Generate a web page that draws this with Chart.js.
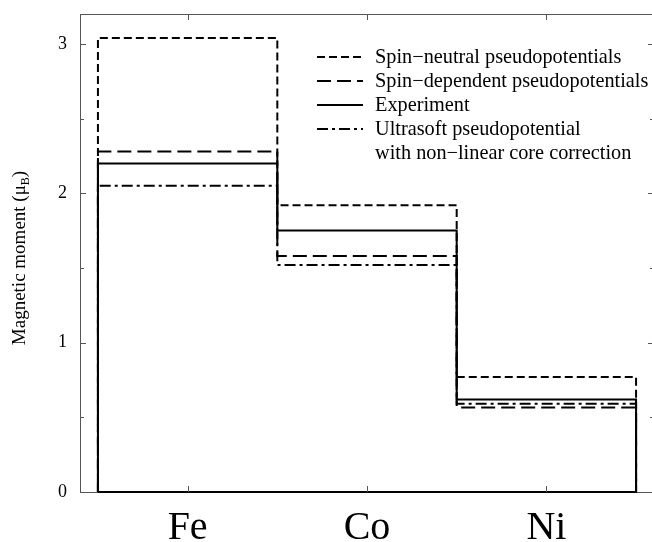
<!DOCTYPE html>
<html>
<head>
<meta charset="utf-8">
<script src="https://cdn.jsdelivr.net/npm/chart.js@4"></script>
<style>
html,body{margin:0;padding:0;background:#fff;overflow:hidden;}
#wrap{width:656px;height:542px;position:relative;}
</style>
</head>
<body>
<div id="wrap"><canvas id="c"></canvas></div>
<script>
// ---- data ----
const categories = ['Fe', 'Co', 'Ni'];
const spinNeutral = [3.04, 1.92, 0.77];
const spinDependent = [2.28, 1.58, 0.565];
const experiment = [2.20, 1.75, 0.62];
const ultrasoft = [2.05, 1.52, 0.59];
const yTicks = [0, 1, 2, 3];
const yMinorTicks = [0.5, 1.5, 2.5];
const seriesLabels = [
  ['Spin\u2212neutral pseudopotentials'],
  ['Spin\u2212dependent pseudopotentials'],
  ['Experiment'],
  ['Ultrasoft pseudopotential', 'with non\u2212linear core correction']
];

// step outline built from the values (each category spans index-0.5 .. index+0.5)
function stepPoints(vals, close) {
  const pts = [{x: -0.5, y: 0}];
  vals.forEach((v, i) => {
    pts.push({x: i - 0.5, y: v});
    pts.push({x: i + 0.5, y: v});
  });
  pts.push({x: vals.length - 0.5, y: 0});
  if (close) pts.push({x: -0.5, y: 0});
  return pts;
}

const SERIF = "'Liberation Serif', 'DejaVu Serif', serif";

const datasets = [
  {label: seriesLabels[2].join(' '), data: stepPoints(experiment, true), borderColor: '#000', borderWidth: 2, borderDash: []},
  {label: seriesLabels[0].join(' '), data: stepPoints(spinNeutral, false), borderColor: '#000', borderWidth: 2, borderDash: [8, 4]},
  {label: seriesLabels[1].join(' '), data: stepPoints(spinDependent, false), borderColor: '#000', borderWidth: 2, borderDash: [14, 6]},
  {label: seriesLabels[3].join(' '), data: stepPoints(ultrasoft, false), borderColor: '#000', borderWidth: 2, borderDash: [11, 4, 3, 4]}
].map(d => Object.assign(d, {showLine: true, pointRadius: 0, fill: false, tension: 0, clip: false, borderCapStyle: 'butt'}));

const legendOrder = [1, 2, 0, 3];
const legendLines = [seriesLabels[0], seriesLabels[1], seriesLabels[2], seriesLabels[3]];

const decor = {
  id: 'decor',
  beforeDatasetsDraw(chart) {
    const {ctx, chartArea: a} = chart;
    ctx.save();
    ctx.strokeStyle = '#555';
    ctx.lineWidth = 1;
    ctx.strokeRect(a.left + 0.5, a.top + 0.5, a.right - a.left - 1, a.bottom - a.top);
    ctx.restore();
  },
  afterDraw(chart) {
    const {ctx, chartArea: a, scales} = chart;
    const xs = scales.x, ys = scales.y;
    ctx.save();
    ctx.strokeStyle = '#555';
    ctx.lineWidth = 1;
    ctx.beginPath();
    yTicks.forEach(v => {
      const y = Math.round(ys.getPixelForValue(v)) + 0.5;
      ctx.moveTo(a.left, y); ctx.lineTo(a.left + 6, y);
      ctx.moveTo(a.right, y); ctx.lineTo(a.right - 6, y);
    });
    yMinorTicks.forEach(v => {
      const y = Math.round(ys.getPixelForValue(v)) + 0.5;
      ctx.moveTo(a.left, y); ctx.lineTo(a.left + 4, y);
      ctx.moveTo(a.right, y); ctx.lineTo(a.right - 4, y);
    });
    categories.forEach((c, i) => {
      const x = Math.round(xs.getPixelForValue(i)) + 0.5;
      ctx.moveTo(x, a.top); ctx.lineTo(x, a.top + 6);
      ctx.moveTo(x, a.bottom); ctx.lineTo(x, a.bottom - 6);
    });
    ctx.stroke();

    // legend
    ctx.fillStyle = '#000';
    ctx.strokeStyle = '#000';
    ctx.font = '20.3px ' + SERIF;
    ctx.textBaseline = 'middle';
    let rowY = 57;
    const rowH = 24;
    legendLines.forEach((lines, r) => {
      const ds = chart.data.datasets[legendOrder[r]];
      ctx.beginPath();
      ctx.lineWidth = ds.borderWidth;
      ctx.setLineDash(ds.borderDash);
      ctx.moveTo(317, rowY); ctx.lineTo(363, rowY);
      ctx.stroke();
      ctx.setLineDash([]);
      lines.forEach(t => {
        ctx.fillText(t, 375, rowY + 1);
        rowY += rowH;
      });
    });

    // y axis title with subscript
    ctx.save();
    ctx.translate(25, 258);
    ctx.rotate(-Math.PI / 2);
    ctx.textBaseline = 'alphabetic';
    ctx.textAlign = 'left';
    const main = 'Magnetic moment (\u03bc';
    const big = '19px ' + SERIF, small = '12px ' + SERIF;
    ctx.font = big;
    const w1 = ctx.measureText(main).width;
    ctx.font = small;
    const w2 = ctx.measureText('B').width;
    ctx.font = big;
    const w3 = ctx.measureText(')').width;
    const x0 = -(w1 + w2 + w3) / 2;
    ctx.fillText(main, x0, 0);
    ctx.font = small;
    ctx.fillText('B', x0 + w1, 4);
    ctx.font = big;
    ctx.fillText(')', x0 + w1 + w2, 0);
    ctx.restore();

    ctx.restore();
  }
};

new Chart(document.getElementById('c'), {
  type: 'scatter',
  data: {datasets},
  options: {
    responsive: true,
    maintainAspectRatio: false,
    animation: false,
    events: [],
    layout: {padding: {top: 14, right: 2, left: 0, bottom: 0}},
    plugins: {legend: {display: false}, tooltip: {enabled: false}},
    scales: {
      x: {
        type: 'linear',
        min: -0.6,
        max: 2.6,
        afterBuildTicks: s => { s.ticks = categories.map((c, i) => ({value: i})); },
        afterFit: s => { s.height = 50; s.paddingLeft = 0; s.paddingRight = 0; },
        grid: {display: false, drawTicks: false},
        border: {display: false},
        ticks: {
          callback: v => categories[v],
          font: {family: SERIF, size: 40},
          color: '#000',
          padding: 12,
          maxRotation: 0
        }
      },
      y: {
        min: 0,
        max: 3.2,
        afterBuildTicks: s => { s.ticks = yTicks.map(v => ({value: v})); },
        afterFit: s => { s.width = 80; s.paddingTop = 0; s.paddingBottom = 0; },
        grid: {display: false, drawTicks: false},
        border: {display: false},
        ticks: {
          font: {family: SERIF, size: 18},
          color: '#000',
          padding: 13
        }
      }
    }
  },
  plugins: [decor]
});
</script>
</body>
</html>
